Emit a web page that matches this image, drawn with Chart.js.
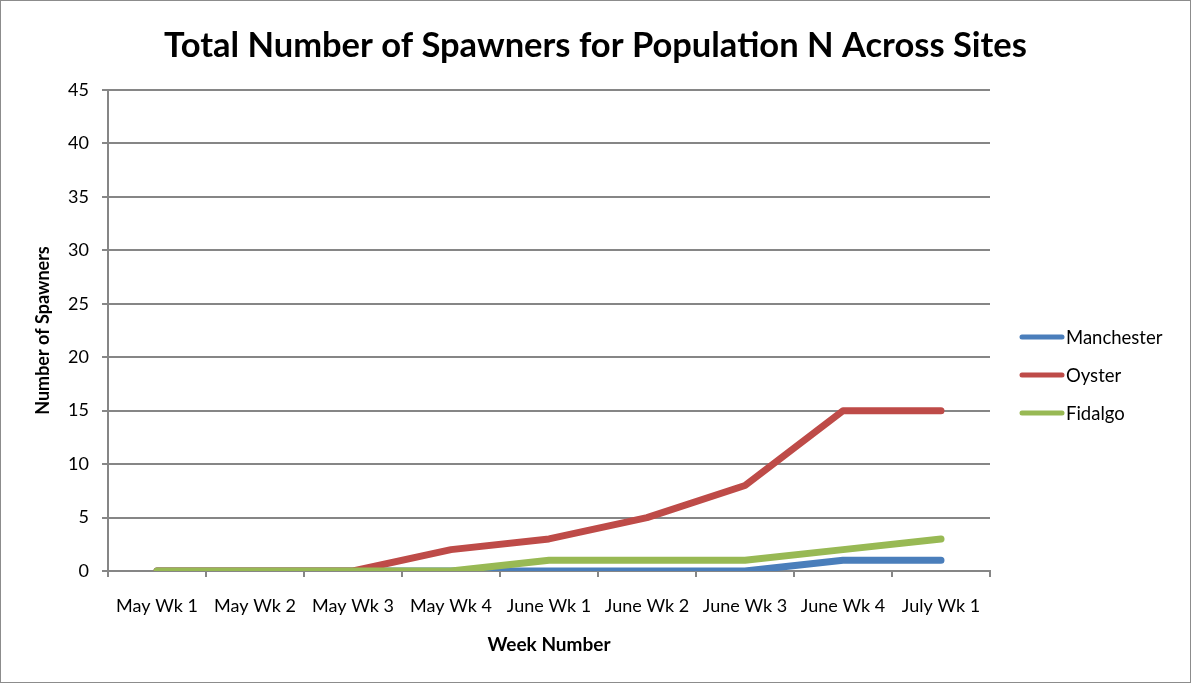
<!DOCTYPE html>
<html>
<head>
<meta charset="utf-8">
<script src="https://cdn.jsdelivr.net/npm/chart.js@4/dist/chart.umd.min.js"></script>
<style>
  body { margin: 0; background: #fff; }
  .frame { width: 1191px; height: 683px; box-sizing: border-box; border: 1px solid #8c8c8c; }
  canvas { display: block; }
</style>
</head>
<body>
<div class="frame"><canvas id="myChart" width="1189" height="681"></canvas></div>
<script>
"use strict";

//////////////////////////////
// Data
const weeks = ["May Wk 1", "May Wk 2", "May Wk 3", "May Wk 4", "June Wk 1", "June Wk 2", "June Wk 3", "June Wk 4", "July Wk 1"];
const manchester = [0, 0, 0, 0, 0, 0, 0, 1, 1];
const oyster = [0, 0, 0, 2, 3, 5, 8, 15, 15];
const fidalgo = [0, 0, 0, 0, 1, 1, 1, 2, 3];
const yTicks = [0, 5, 10, 15, 20, 25, 30, 35, 40, 45];
const chartTitle = "Total Number of Spawners for Population N Across Sites";

const gray = "#868686";
const font = "Lato";

//////////////////////////////
// Title centred on the whole canvas + legend at the right, Excel style
const sideLegend = {
  id: "sideLegend",
  afterDraw(chart) {
    const ctx = chart.ctx;
    const rows = [336, 374, 412];
    ctx.save();
    ctx.fillStyle = "#000";
    ctx.font = `bold 34.5px ${font}`;
    ctx.textAlign = "center";
    ctx.textBaseline = "middle";
    ctx.fillText(chartTitle, chart.width / 2, 45);

    ctx.textAlign = "left";
    chart.data.datasets.forEach((ds, i) => {
      const y = rows[i];
      ctx.strokeStyle = ds.borderColor;
      ctx.lineWidth = 5;
      ctx.lineCap = "round";
      ctx.beginPath();
      ctx.moveTo(1021, y);
      ctx.lineTo(1061, y);
      ctx.stroke();
      ctx.fillStyle = "#000";
      ctx.font = `18.5px ${font}`;
      ctx.fillText(ds.label, 1065, y + 1);
    });
    ctx.restore();
  },
};

const lineSet = (label, data, color, order) => ({
  label: label,
  data: data,
  borderColor: color,
  backgroundColor: color,
  borderWidth: 7,
  borderCapStyle: "round",
  borderJoinStyle: "round",
  pointRadius: 0,
  tension: 0,
  order: order,
});

const ctx = document.getElementById("myChart").getContext("2d");
const chart = new Chart(ctx, {
  type: "line",
  data: {
    labels: weeks,
    datasets: [
      lineSet("Manchester", manchester, "#4A7EBB", 2),
      lineSet("Oyster", oyster, "#BE4B48", 1),
      lineSet("Fidalgo", fidalgo, "#98B954", 0),
    ],
  },
  options: {
    responsive: false,
    animation: false,
    layout: { padding: { left: 0, right: 200, top: 89, bottom: 0 } },
    plugins: {
      legend: { display: false },
      tooltip: { enabled: false },
      title: { display: false },
    },
    scales: {
      x: {
        offset: true,
        afterFit: (scale) => { scale.height = 111; },
        grid: {
          offset: true,
          drawOnChartArea: false,
          drawTicks: true,
          tickLength: 6,
          color: gray,
          lineWidth: 2,
        },
        border: { color: gray, width: 2 },
        ticks: {
          color: "#000",
          font: { family: font, size: 18 },
          padding: 18,
          maxRotation: 0,
          autoSkip: false,
        },
        title: {
          display: true,
          text: "Week Number",
          color: "#000",
          font: { family: font, size: 19, weight: "bold" },
          padding: { top: 0, bottom: 26 },
        },
      },
      y: {
        min: 0,
        max: 45,
        afterFit: (scale) => { scale.width = 107; },
        afterBuildTicks: (scale) => { scale.ticks = yTicks.map((v) => ({ value: v })); },
        grid: {
          drawTicks: true,
          tickLength: 6,
          color: gray,
          lineWidth: 2,
        },
        border: { color: gray, width: 2 },
        ticks: {
          color: "#000",
          font: { family: font, size: 18 },
          padding: 13,
        },
        title: {
          display: true,
          text: "Number of Spawners",
          color: "#000",
          font: { family: font, size: 18, weight: "bold" },
          padding: { top: 31, bottom: 0 },
        },
      },
    },
  },
  plugins: [sideLegend],
});
</script>
</body>
</html>
